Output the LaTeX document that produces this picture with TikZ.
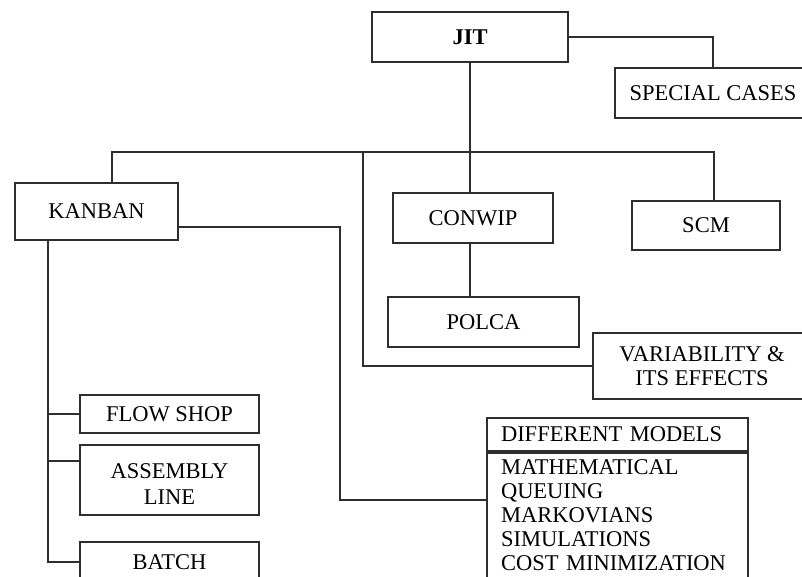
\documentclass[tikz,border=0pt]{standalone}
\usepackage{fontspec}
\setmainfont{Liberation Serif}
\definecolor{ink}{HTML}{2E2E2E}
\begin{document}
\begin{tikzpicture}[x=1pt,y=-1pt,
  box/.style={draw=ink, line width=2pt, inner sep=0pt, align=center,
    font=\fontsize{22.5}{24}\selectfont},
  link/.style={draw=ink, line width=2pt}]
\clip (0,0) rectangle (802,576);
\fill[white] (0,0) rectangle (802,576);

% boxes
\node[box, minimum width=196pt, minimum height=50pt] (jit) at (470,37) {\textbf{JIT}};
\node[box, minimum width=196pt, minimum height=50pt] (special) at (713,93) {SPECIAL CASES};
\node[box, minimum width=163pt, minimum height=57pt] (kanban) at (96.5,211.5) {KANBAN};
\node[box, minimum width=160pt, minimum height=50pt] (conwip) at (473,218) {CONWIP};
\node[box, minimum width=148pt, minimum height=49pt] (scm) at (706,225.5) {SCM};
\node[box, minimum width=191pt, minimum height=50pt] (polca) at (483.5,322) {POLCA};
\node[box, minimum width=218pt, minimum height=66pt] (variab) at (702,366) {VARIABILITY \&\\ITS EFFECTS};
\node[box, minimum width=179pt, minimum height=38pt] (flow) at (169.5,414) {FLOW SHOP};
\node[box, minimum width=179pt, minimum height=70pt] (assembly) at (169.5,480) {\rule{0pt}{22pt}ASSEMBLY\\[2pt]LINE};
\node[box, minimum width=179pt, minimum height=40pt] (batch) at (169.5,562) {BATCH};
\node[box, anchor=north west, text width=233pt, inner xsep=14pt, minimum height=33pt, align=left]
  (mhead) at (486,417) {DIFFERENT MODELS};
\node[box, anchor=north west, text width=233pt, inner xsep=14pt, inner ysep=7pt, align=left]
  (mlist) at (mhead.south west) {MATHEMATICAL\\QUEUING\\MARKOVIANS\\SIMULATIONS\\COST MINIMIZATION\\ };

% junction points
\coordinate (busL) at (112,152);
\coordinate (busR) at (714,152);
\coordinate (busV) at (363,152);
\coordinate (kturn) at (340,0);
\coordinate (trunk) at (48,0);
\coordinate (kout) at ([yshift=-15.5pt]kanban.east);
\coordinate (min) at ([yshift=-48pt]mlist.north west);

% connectors
\draw[link] (jit.east) -| (special.north);
\draw[link] (jit.south) -- (jit.south |- busL);
\draw[link] (busL |- kanban.north) -- (busL) -- (busR) -- (busR |- scm.north);
\draw[link] (jit.south |- busL) -- (jit.south |- conwip.north);
\draw[link] (jit.south |- conwip.south) -- (jit.south |- polca.north);
\draw[link] (busV) |- (variab.west);
\draw[link] (kout) -- (kturn |- kout) -- (kturn |- min) -- (min);
\draw[link] (trunk |- kanban.south) -- (trunk |- batch.west) -- (batch.west);
\draw[link] (trunk |- flow.west) -- (flow.west);
\draw[link] ([yshift=19pt]trunk |- assembly.west) -- ([yshift=19pt]assembly.west);
\end{tikzpicture}
\end{document}
